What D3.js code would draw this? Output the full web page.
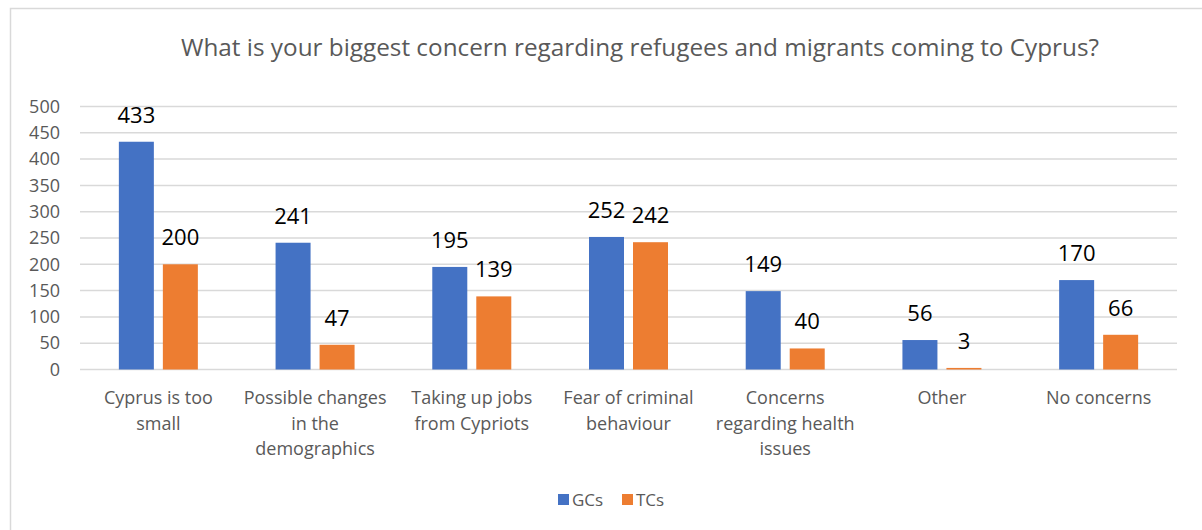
<!DOCTYPE html>
<html>
<head>
<meta charset="utf-8">
<script src="https://cdn.jsdelivr.net/npm/d3@7"></script>
<style>
  html, body { margin: 0; padding: 0; background: #fff; }
  svg { display: block; font-family: "Open Sans", sans-serif; }
</style>
</head>
<body>
<svg id="chart" width="1202" height="530"></svg>
<script>
// Survey responses: biggest concern about refugees and migrants
const categories = [
  "Cyprus is too\nsmall",
  "Possible changes\nin the\ndemographics",
  "Taking up jobs\nfrom Cypriots",
  "Fear of criminal\nbehaviour",
  "Concerns\nregarding health\nissues",
  "Other",
  "No concerns"
];
const seriesNames = ["GCs", "TCs"];
const gcValues = [433, 241, 195, 252, 149, 56, 170];
const tcValues = [200, 47, 139, 242, 40, 3, 66];
const yTicks = [0, 50, 100, 150, 200, 250, 300, 350, 400, 450, 500];
const title = "What is your biggest concern regarding refugees and migrants coming to Cyprus?";

const colors = { GCs: "#4472c4", TCs: "#ed7d31" };
const textGray = "#595959";
const gridGray = "#d9d9d9";

const svg = d3.select("#chart");

// outer chart frame
svg.append("rect")
  .attr("x", 10.5).attr("y", 8.5)
  .attr("width", 1220).attr("height", 540)
  .attr("fill", "#fff")
  .attr("stroke", gridGray).attr("stroke-width", 1.5);

const plot = { left: 80, right: 1177, top: 106.5, bottom: 369.5 };

const x0 = d3.scaleBand()
  .domain(d3.range(categories.length))
  .range([plot.left, plot.right])
  .paddingInner(0).paddingOuter(0);

const y = d3.scaleLinear().domain([0, 500]).range([plot.bottom, plot.top]);

// gridlines
svg.append("g")
  .selectAll("line")
  .data(yTicks)
  .join("line")
  .attr("x1", plot.left).attr("x2", plot.right)
  .attr("y1", d => y(d)).attr("y2", d => y(d))
  .attr("stroke", gridGray).attr("stroke-width", 1.5);

// y axis labels
const yAxis = d3.axisLeft(y).tickValues(yTicks).tickSize(0).tickPadding(0);
const yg = svg.append("g")
  .attr("transform", `translate(60,0)`)
  .call(yAxis);
yg.select(".domain").remove();
yg.selectAll("text")
  .attr("fill", textGray)
  .style("font-size", "18px")
  .style("font-family", "'Open Sans', sans-serif");

// bars: two 35px bars per group with a 9px gap
const barW = 35, gap = 9;
const groupW = barW * 2 + gap;
const rows = categories.map((c, i) => ({ i, GCs: gcValues[i], TCs: tcValues[i] }));
const x1 = d3.scaleBand().domain(seriesNames).range([0, groupW])
  .paddingInner(gap / (barW + gap)).paddingOuter(0);

const groups = svg.append("g")
  .selectAll("g")
  .data(rows)
  .join("g")
  .attr("transform", d => `translate(${x0(d.i) + x0.bandwidth() / 2 - groupW / 2},0)`);

groups.selectAll("rect")
  .data(d => seriesNames.map(s => ({ s, v: d[s] })))
  .join("rect")
  .attr("x", d => x1(d.s))
  .attr("y", d => y(d.v))
  .attr("width", x1.bandwidth())
  .attr("height", d => y(0) - y(d.v))
  .attr("fill", d => colors[d.s]);

// value labels
groups.selectAll("text.val")
  .data(d => seriesNames.map(s => ({ s, v: d[s] })))
  .join("text")
  .attr("class", "val")
  .attr("x", d => x1(d.s) + x1.bandwidth() / 2)
  .attr("y", d => y(d.v) - 19)
  .attr("text-anchor", "middle")
  .attr("fill", "#000")
  .style("font-size", "22px")
  .text(d => d.v);

// category labels
const catG = svg.append("g")
  .selectAll("text")
  .data(categories)
  .join("text")
  .attr("x", (d, i) => x0(i) + x0.bandwidth() / 2)
  .attr("y", 404)
  .attr("text-anchor", "middle")
  .attr("fill", textGray)
  .style("font-size", "18px");
catG.each(function(d) {
  const t = d3.select(this);
  d.split("\n").forEach((line, k) => {
    t.append("tspan")
      .attr("x", t.attr("x"))
      .attr("dy", k === 0 ? 0 : 25.5)
      .text(line);
  });
});

// title
svg.append("text")
  .attr("x", 640).attr("y", 56)
  .attr("text-anchor", "middle")
  .attr("fill", textGray)
  .style("font-size", "24.3px")
  .text(title);

// legend
const legend = svg.append("g");
const legendItems = [
  { name: "GCs", x: 558 },
  { name: "TCs", x: 622 }
];
legendItems.forEach(it => {
  legend.append("rect")
    .attr("x", it.x).attr("y", 494)
    .attr("width", 11).attr("height", 11)
    .attr("fill", colors[it.name]);
  legend.append("text")
    .attr("x", it.x + 14).attr("y", 506)
    .attr("fill", textGray)
    .style("font-size", "17px")
    .text(it.name);
});
</script>
</body>
</html>
